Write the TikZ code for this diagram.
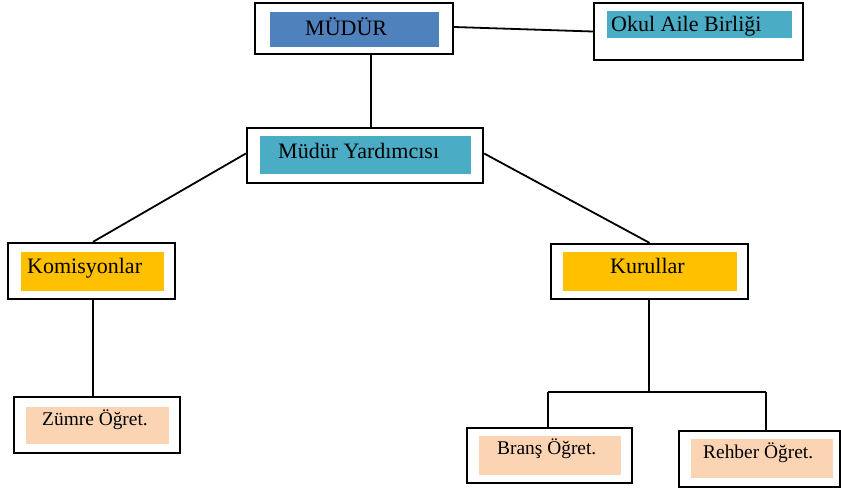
\documentclass[tikz,border=0pt]{standalone}
\usepackage{fontspec}
\setmainfont{Liberation Serif}
\definecolor{cblue}{HTML}{4F81BD}
\definecolor{cteal}{HTML}{4BACC6}
\definecolor{cgold}{HTML}{FFC000}
\definecolor{cpeach}{HTML}{FBD4B4}
\tikzset{
  outerbox/.style={draw=black, line width=2.3pt, fill=white, inner sep=0pt},
  fillbox/.style={inner sep=0pt, draw=none},
  big/.style={font=\fontsize{22}{26}\selectfont, inner sep=0pt},
  small/.style={font=\fontsize{19.4}{23}\selectfont, inner sep=0pt},
  conn/.style={line width=1.8pt, black}
}
\begin{document}
\begin{tikzpicture}[x=1pt,y=-1pt]
\useasboundingbox (0,0) rectangle (841,491);
% outer boxes
\node[outerbox, minimum width=198pt, minimum height=51pt] (mudur) at (354,28.5) {};
\node[outerbox, minimum width=209pt, minimum height=57pt] (okul) at (698.5,31.5) {};
\node[outerbox, minimum width=236pt, minimum height=55pt] (myard) at (365,155.5) {};
\node[outerbox, minimum width=167pt, minimum height=56pt] (komis) at (91.5,271) {};
\node[outerbox, minimum width=197pt, minimum height=55pt] (kurul) at (649.5,271.5) {};
\node[outerbox, minimum width=166pt, minimum height=56pt] (zumre) at (97,425) {};
\node[outerbox, minimum width=165pt, minimum height=55pt] (brans) at (549.5,455.5) {};
\node[outerbox, minimum width=161pt, minimum height=56pt] (rehber) at (759.5,459) {};
% inner fills
\node[fillbox, fill=cblue, minimum width=169pt, minimum height=35pt] (mudurf) at (354.5,29.5) {};
\node[fillbox, fill=cteal, minimum width=185pt, minimum height=27pt] (okulf) at (699.5,24.5) {};
\node[fillbox, fill=cteal, minimum width=211pt, minimum height=38pt] (myardf) at (365.5,155) {};
\node[fillbox, fill=cgold, minimum width=143pt, minimum height=39pt] (komisf) at (92.5,271.5) {};
\node[fillbox, fill=cgold, minimum width=174pt, minimum height=39pt] (kurulf) at (650,271.5) {};
\node[fillbox, fill=cpeach, minimum width=143pt, minimum height=37pt] (zumref) at (97.5,425.5) {};
\node[fillbox, fill=cpeach, minimum width=142pt, minimum height=39pt] (bransf) at (550,455.5) {};
\node[fillbox, fill=cpeach, minimum width=142pt, minimum height=39pt] (rehberf) at (762,458.5) {};
% texts
\node[big, anchor=base west] (t1) at (305,35) {MÜDÜR};
\node[big, anchor=base west] (t2) at (611,31) {Okul Aile Birliği};
\node[big, anchor=base west] (t3) at (278,158) {Müdür Yardımcısı};
\node[big, anchor=base west] (t4) at (27,273) {Komisyonlar};
\node[big, anchor=base west] (t5) at (610,273) {Kurullar};
\node[small, anchor=base west] (t6) at (42,425) {Zümre Öğret.};
\node[small, anchor=base west] (t7) at (497,454) {Branş Öğret.};
\node[small, anchor=base west] (t8) at (703,458) {Rehber Öğret.};
% connectors
\coordinate (jl) at (548,392);
\coordinate (jr) at (766,392);
\coordinate (kb) at (649,392);
\draw[conn] ([yshift=1.5pt]mudur.east) -- (okul.west);
\draw[conn] ([xshift=17pt]mudur.south) -- ([xshift=6pt]myard.north);
\draw[conn] ([yshift=2pt]myard.west) -- ([xshift=1.5pt]komis.north);
\draw[conn] ([yshift=2pt]myard.east) -- (kurul.north);
\draw[conn] ([xshift=1.5pt]komis.south) -- ([xshift=1.5pt]komis.south |- zumre.north);
\draw[conn] (kb |- kurul.south) -- (kb);
\draw[conn] (jl) -- (jr);
\draw[conn] (jl) -- (jl |- brans.north);
\draw[conn] (jr) -- (jr |- rehber.north);
\end{tikzpicture}
\end{document}
